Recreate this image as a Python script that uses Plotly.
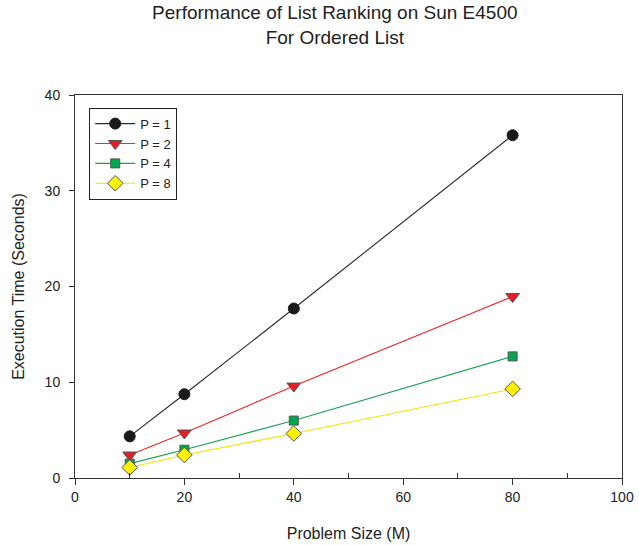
import plotly.graph_objects as go

sizes = [10, 20, 40, 80]
p1 = [4.35, 8.75, 17.7, 35.8]
p2 = [2.4, 4.7, 9.6, 18.95]
p4 = [1.5, 2.95, 6.0, 12.7]
p8 = [1.1, 2.4, 4.65, 9.3]
names = ["P = 1", "P = 2", "P = 4", "P = 8"]

styles = [
    dict(line="#2a2a2a", fill="#1a1a1a", symbol="circle", size=11, outline="#1a1a1a"),
    dict(line="#ee2a2a", fill="#e31e24", symbol="triangle-down", size=12, outline="#555555"),
    dict(line="#1aa050", fill="#00a650", symbol="square", size=9, outline="#555555"),
    dict(line="#f2e600", fill="#fff200", symbol="diamond", size=12, outline="#555555"),
]

fig = go.Figure()
for name, ys, st in zip(names, [p1, p2, p4, p8], styles):
    fig.add_trace(go.Scatter(
        x=sizes, y=ys, name=name, mode="lines+markers",
        line=dict(color=st["line"], width=1.1),
        marker=dict(symbol=st["symbol"], size=st["size"], color=st["fill"],
                    line=dict(color=st["outline"], width=1)),
    ))

font = "Liberation Sans, Arial, sans-serif"
fig.update_layout(
    width=639, height=545,
    margin=dict(l=75, r=17, t=95, b=67, autoexpand=False),
    paper_bgcolor="white", plot_bgcolor="white",
    font=dict(family=font, size=14, color="#222222"),
    title=dict(text="Performance of List Ranking on Sun E4500<br>For Ordered List",
               x=0.524, xanchor="center", y=0.965, yanchor="top",
               font=dict(size=19, color="#222222")),
    showlegend=True,
    legend=dict(x=0.026, y=0.967, xanchor="left", yanchor="top",
                bordercolor="#222222", borderwidth=1, bgcolor="white",
                font=dict(size=13), itemwidth=40, tracegroupgap=0,
                entrywidth=48, entrywidthmode="pixels"),
    xaxis=dict(range=[0, 100], tickvals=[0, 20, 40, 60, 80, 100], automargin=False,
               ticks="outside", ticklen=6, tickcolor="#333333", ticklabelstandoff=0,
               minor=dict(tickvals=[10, 30, 50, 70, 90], ticks="inside", ticklen=5, tickcolor="#333333"),
               showline=True, linecolor="#333333", linewidth=1, mirror=True,
               showgrid=False, zeroline=False,
               title=dict(text="Problem Size (M)", font=dict(size=16), standoff=24)),
    yaxis=dict(range=[0, 40], tickvals=[0, 10, 20, 30, 40], automargin=False,
               ticks="outside", ticklen=5, tickcolor="#333333", ticklabelstandoff=6,
               showline=True, linecolor="#333333", linewidth=1, mirror=True,
               showgrid=False, zeroline=False,
               title=dict(text="Execution Time (Seconds)", font=dict(size=16), standoff=16)),
)

fig.write_html("out.html")
